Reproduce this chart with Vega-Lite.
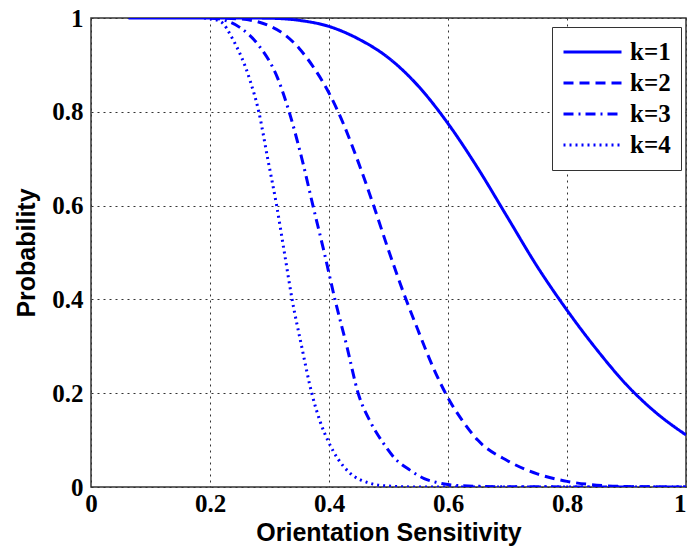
{
  "$schema": "https://vega.github.io/schema/vega-lite/v6.json",
  "width": 595,
  "height": 469,
  "autosize": "none",
  "padding": {"left": 91, "top": 18, "right": 2, "bottom": 65},
  "background": "white",
  "config": {
    "view": {"stroke": "#333333", "strokeWidth": 1.5}
  },
  "data": {
    "values": [
      {"k": "k=1", "x": 0.063, "p": 1},
      {"k": "k=1", "x": 0.15, "p": 1},
      {"k": "k=1", "x": 0.25, "p": 1},
      {"k": "k=1", "x": 0.3, "p": 0.9995},
      {"k": "k=1", "x": 0.35, "p": 0.995},
      {"k": "k=1", "x": 0.4, "p": 0.982},
      {"k": "k=1", "x": 0.45, "p": 0.955},
      {"k": "k=1", "x": 0.5, "p": 0.915},
      {"k": "k=1", "x": 0.55, "p": 0.855},
      {"k": "k=1", "x": 0.6, "p": 0.775},
      {"k": "k=1", "x": 0.65, "p": 0.68},
      {"k": "k=1", "x": 0.7, "p": 0.575},
      {"k": "k=1", "x": 0.75, "p": 0.47},
      {"k": "k=1", "x": 0.8, "p": 0.377},
      {"k": "k=1", "x": 0.85, "p": 0.293},
      {"k": "k=1", "x": 0.9, "p": 0.218},
      {"k": "k=1", "x": 0.95, "p": 0.158},
      {"k": "k=1", "x": 1.0, "p": 0.111},

      {"k": "k=2", "x": 0.2, "p": 1},
      {"k": "k=2", "x": 0.25, "p": 0.998},
      {"k": "k=2", "x": 0.3, "p": 0.983},
      {"k": "k=2", "x": 0.325, "p": 0.965},
      {"k": "k=2", "x": 0.35, "p": 0.935},
      {"k": "k=2", "x": 0.375, "p": 0.893},
      {"k": "k=2", "x": 0.4, "p": 0.84},
      {"k": "k=2", "x": 0.425, "p": 0.772},
      {"k": "k=2", "x": 0.45, "p": 0.69},
      {"k": "k=2", "x": 0.475, "p": 0.6},
      {"k": "k=2", "x": 0.5, "p": 0.505},
      {"k": "k=2", "x": 0.525, "p": 0.415},
      {"k": "k=2", "x": 0.55, "p": 0.333},
      {"k": "k=2", "x": 0.575, "p": 0.255},
      {"k": "k=2", "x": 0.6, "p": 0.19},
      {"k": "k=2", "x": 0.625, "p": 0.14},
      {"k": "k=2", "x": 0.65, "p": 0.1},
      {"k": "k=2", "x": 0.7, "p": 0.056},
      {"k": "k=2", "x": 0.75, "p": 0.028},
      {"k": "k=2", "x": 0.8, "p": 0.012},
      {"k": "k=2", "x": 0.85, "p": 0.004},
      {"k": "k=2", "x": 0.9, "p": 0.001},
      {"k": "k=2", "x": 1.0, "p": 0},

      {"k": "k=3", "x": 0.2, "p": 1},
      {"k": "k=3", "x": 0.225, "p": 0.995},
      {"k": "k=3", "x": 0.25, "p": 0.98},
      {"k": "k=3", "x": 0.284, "p": 0.938},
      {"k": "k=3", "x": 0.313, "p": 0.874},
      {"k": "k=3", "x": 0.333, "p": 0.8},
      {"k": "k=3", "x": 0.355, "p": 0.697},
      {"k": "k=3", "x": 0.373, "p": 0.6},
      {"k": "k=3", "x": 0.392, "p": 0.5},
      {"k": "k=3", "x": 0.41, "p": 0.4},
      {"k": "k=3", "x": 0.43, "p": 0.3},
      {"k": "k=3", "x": 0.449, "p": 0.2},
      {"k": "k=3", "x": 0.47, "p": 0.138},
      {"k": "k=3", "x": 0.491, "p": 0.094},
      {"k": "k=3", "x": 0.51, "p": 0.062},
      {"k": "k=3", "x": 0.536, "p": 0.036},
      {"k": "k=3", "x": 0.56, "p": 0.018},
      {"k": "k=3", "x": 0.58, "p": 0.01},
      {"k": "k=3", "x": 0.62, "p": 0.003},
      {"k": "k=3", "x": 0.7, "p": 0.0005},
      {"k": "k=3", "x": 1.0, "p": 0},

      {"k": "k=4", "x": 0.19, "p": 1},
      {"k": "k=4", "x": 0.217, "p": 0.993},
      {"k": "k=4", "x": 0.239, "p": 0.953},
      {"k": "k=4", "x": 0.267, "p": 0.868},
      {"k": "k=4", "x": 0.282, "p": 0.8},
      {"k": "k=4", "x": 0.297, "p": 0.7},
      {"k": "k=4", "x": 0.312, "p": 0.6},
      {"k": "k=4", "x": 0.325, "p": 0.5},
      {"k": "k=4", "x": 0.338, "p": 0.4},
      {"k": "k=4", "x": 0.354, "p": 0.3},
      {"k": "k=4", "x": 0.371, "p": 0.2},
      {"k": "k=4", "x": 0.385, "p": 0.14},
      {"k": "k=4", "x": 0.4, "p": 0.094},
      {"k": "k=4", "x": 0.415, "p": 0.06},
      {"k": "k=4", "x": 0.435, "p": 0.03},
      {"k": "k=4", "x": 0.469, "p": 0.008},
      {"k": "k=4", "x": 0.5, "p": 0.002},
      {"k": "k=4", "x": 0.55, "p": 0},
      {"k": "k=4", "x": 1.0, "p": 0}
    ]
  },
  "mark": {"type": "line", "strokeWidth": 3, "color": "#0000ff", "interpolate": "monotone", "clip": true},
  "encoding": {
    "x": {
      "field": "x",
      "type": "quantitative",
      "scale": {"domain": [0, 1], "nice": false, "zero": false},
      "axis": {
        "title": "Orientation Sensitivity",
        "values": [0, 0.2, 0.4, 0.6, 0.8, 1],
        "format": "~g",
        "labelFlush": false,
        "labelOverlap": false,
        "labelAlign": {"condition": {"test": "datum.value == 1", "value": "right"}, "value": "center"},
        "domain": false,
        "ticks": false,
        "grid": true,
        "gridDash": [2, 4],
        "gridColor": "#333333",
        "gridWidth": 1,
        "gridOpacity": 1,
        "labelFont": "Liberation Serif",
        "labelFontWeight": "bold",
        "labelFontSize": 25,
        "labelColor": "#000000",
        "labelPadding": 4,
        "titleFont": "Liberation Sans",
        "titleFontWeight": "bold",
        "titleFontSize": 25,
        "titleColor": "#000000",
        "titlePadding": 4
      }
    },
    "y": {
      "field": "p",
      "type": "quantitative",
      "scale": {"domain": [0, 1], "nice": false},
      "axis": {
        "title": "Probability",
        "values": [0, 0.2, 0.4, 0.6, 0.8, 1],
        "format": "~g",
        "labelFlush": false,
        "labelOverlap": false,
        "domain": false,
        "ticks": false,
        "grid": true,
        "gridDash": [2, 4],
        "gridColor": "#333333",
        "gridWidth": 1,
        "gridOpacity": 1,
        "labelFont": "Liberation Serif",
        "labelFontWeight": "bold",
        "labelFontSize": 25,
        "labelColor": "#000000",
        "labelPadding": 8,
        "titleFont": "Liberation Sans",
        "titleFontWeight": "bold",
        "titleFontSize": 25,
        "titleColor": "#000000",
        "titlePadding": 12
      }
    },
    "strokeDash": {
      "field": "k",
      "type": "nominal",
      "scale": {
        "domain": ["k=1", "k=2", "k=3", "k=4"],
        "range": [[1, 0], [10, 6], [10, 5, 2, 5], [2, 4]]
      },
      "legend": {
        "title": null,
        "orient": "none",
        "legendX": 461,
        "legendY": 9,
        "symbolType": "stroke",
        "symbolSize": 3364,
        "symbolStrokeWidth": 3,
        "symbolStrokeColor": "#0000ff",
        "labelFont": "Liberation Serif",
        "labelFontWeight": "bold",
        "labelFontSize": 25,
        "labelColor": "#000000",
        "labelOffset": 7,
        "clipHeight": 30,
        "rowPadding": 1,
        "padding": 10,
        "strokeColor": "#333333",
        "fillColor": "white",
        "cornerRadius": 0
      }
    },
    "order": {"field": "x", "type": "quantitative"}
  }
}
